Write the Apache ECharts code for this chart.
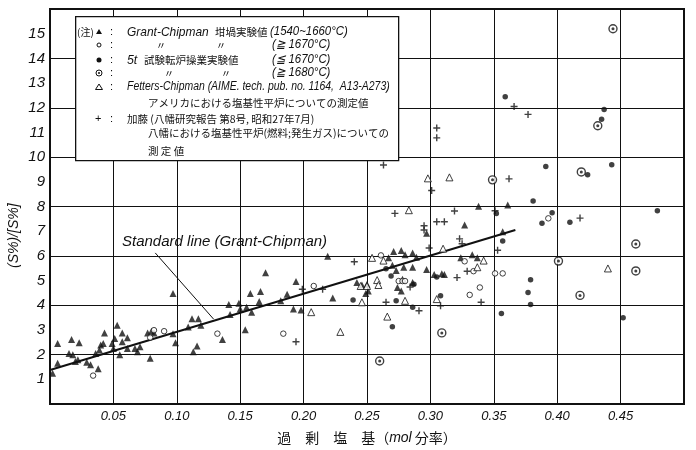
<!DOCTYPE html>
<html><head><meta charset="utf-8">
<script src="https://cdn.jsdelivr.net/npm/echarts@6/dist/echarts.min.js"></script>
<style>html,body{margin:0;padding:0;background:#fff}#c{width:696px;height:450px}</style>
</head><body><div id="c"></div>
<script>
// ---- data ----
const xTicks = [0.05,0.10,0.15,0.20,0.25,0.30,0.35,0.40,0.45];
const yTicks = [1,2,3,4,5,6,7,8,9,10,11,12,13,14,15];
// Grant-Chipman crucible (1540~1660°C) : filled triangles
const gcTri = [[0.002,1.25],[0.006,2.45],[0.006,1.65],[0.015,2.05],[0.017,2.61],[0.018,1.99],[0.020,1.72],[0.022,1.79],[0.023,2.48],[0.029,1.69],[0.032,1.59],[0.036,2.05],[0.038,1.43],[0.039,2.19],[0.040,2.39],[0.042,2.45],[0.043,2.88],[0.049,2.45],[0.050,2.25],[0.051,2.65],[0.053,3.19],[0.055,1.99],[0.057,2.88],[0.057,2.52],[0.061,2.68],[0.061,2.25],[0.067,2.25],[0.069,2.12],[0.071,2.32],[0.079,1.85],[0.077,2.88],[0.080,2.95],[0.082,2.88],[0.097,4.48],[0.097,2.85],[0.099,2.48],[0.109,3.12],[0.112,3.45],[0.117,3.45],[0.116,2.35],[0.113,2.12],[0.119,3.19],[0.136,2.61],[0.141,4.03],[0.142,3.63],[0.149,4.08],[0.150,3.85],[0.154,3.01],[0.155,3.92],[0.158,4.48],[0.159,3.72],[0.165,4.15],[0.166,4.56],[0.170,5.32],
[0.338,8.01],[0.327,7.25],[0.297,6.92],[0.271,6.18],[0.277,6.22],[0.280,6.05],[0.286,6.12],[0.289,5.94],[0.267,5.92],[0.270,5.62],[0.279,5.54],[0.286,5.54],[0.273,5.41],[0.297,5.45],[0.219,5.98],[0.194,4.96],[0.192,3.85],[0.198,3.81],[0.187,4.45],[0.182,4.18],[0.223,4.29],[0.242,4.92],[0.246,4.82],[0.250,4.85],[0.251,4.58],[0.249,4.48],[0.274,4.72],[0.277,4.58],[0.278,5.05],[0.286,4.92],[0.324,5.92],[0.333,6.05],[0.337,5.92],[0.303,5.25],[0.309,5.28],[0.311,5.25],[0.361,8.06],[0.357,6.98]];
// Grant-Chipman crucible (>=1670°C) : open circles
const gcCirc = [[0.034,1.15],[0.079,2.69],[0.082,2.99],[0.090,2.95],[0.132,2.85],[0.261,6.02],[0.208,4.78],[0.275,4.98],[0.278,4.98],[0.280,4.98],[0.184,2.85],[0.331,4.42],[0.339,4.72],[0.327,5.78],[0.334,5.38],[0.393,7.52],[0.351,5.29],[0.357,5.29]];
// 5t converter (<=1670°C) : filled circles
const cvDot = [[0.265,5.48],[0.269,5.18],[0.239,4.21],[0.273,4.18],[0.286,3.92],[0.287,4.85],[0.308,4.38],[0.270,3.13],[0.305,5.14],[0.352,7.72],[0.359,12.45],[0.437,11.93],[0.435,11.53],[0.391,9.62],[0.424,9.29],[0.443,9.69],[0.381,8.22],[0.396,7.75],[0.388,7.32],[0.410,7.36],[0.357,6.6],[0.379,5.03],[0.377,4.52],[0.379,4.03],[0.356,3.67],[0.452,3.49],[0.479,7.83]];
// 5t converter (>=1680°C) : circle with dot
const cvRing = [[0.349,9.08],[0.309,2.88],[0.260,1.74],[0.444,15.2],[0.432,11.27],[0.419,9.4],[0.462,6.48],[0.462,5.39],[0.418,4.4],[0.401,5.79]];
// Fetters-Chipman : open triangles
const fcTri = [[0.298,9.14],[0.315,9.18],[0.283,7.85],[0.310,6.29],[0.254,5.92],[0.263,5.81],[0.258,5.02],[0.259,4.82],[0.245,4.78],[0.250,4.78],[0.229,2.92],[0.206,3.72],[0.266,3.54],[0.280,4.18],[0.305,4.25],[0.342,5.81],[0.337,5.54],[0.246,4.12],[0.440,5.49]];
// Kato (Yawata) : plus
const ktPlus = [[0.305,11.18],[0.305,10.78],[0.263,9.68],[0.301,8.65],[0.272,7.72],[0.319,7.82],[0.305,7.38],[0.311,7.38],[0.295,7.22],[0.295,7.05],[0.323,6.69],[0.325,6.49],[0.299,6.32],[0.240,5.76],[0.199,4.65],[0.215,4.65],[0.284,4.74],[0.265,4.12],[0.308,3.98],[0.291,3.78],[0.194,2.52],[0.321,5.12],[0.329,5.38],[0.340,4.12],[0.366,12.05],[0.377,11.73],[0.362,9.12],[0.351,7.83],[0.418,7.53],[0.353,6.23]];
// standard line (Grant-Chipman)
const stdX = [0, 0.367];
const stdY = [1.38, 7.05];
// annotation pointer
const arrX = [0.083, 0.129];
const arrY = [6.12, 3.44];
// ---- chart ----
const chart = echarts.init(document.getElementById('c'));
const LAT = '"Liberation Sans",sans-serif';
const CJK = '"Noto Sans CJK JP","Noto Sans CJK SC",sans-serif';
const K = '#111';
function zip(a,b){return a.map((v,i)=>[v,b[i]]);}
const plusPath = 'path://M4,0H6V4H10V6H6V10H4V6H0V4H4Z';
const txt = (x,y,t,font,size,italic,sx)=>({type:'text',x:x,y:y,z:100,scaleX:sx||1,style:{text:t,fill:K,font:(italic?'italic ':'')+size+'px '+font,textVerticalAlign:'middle'}});
const R = [32,45,60,73,87,107,119,137,154];
const g = [
  {type:'rect',left:75,top:16,z:90,shape:{width:323,height:144},style:{fill:'#fff',stroke:K,lineWidth:1.3}},
  txt(77,R[0],'(注)',CJK,10,false),
  {type:'polygon',z:100,shape:{points:[[99,R[0]-3],[102,R[0]+2],[96,R[0]+2]]},style:{fill:K}},
  {type:'circle',z:100,shape:{cx:99,cy:R[1],r:2},style:{fill:'#fff',stroke:K,lineWidth:1}},
  {type:'circle',z:100,shape:{cx:99,cy:R[2],r:2.5},style:{fill:K}},
  {type:'circle',z:100,shape:{cx:99,cy:R[3],r:3},style:{fill:'#fff',stroke:K,lineWidth:1}},
  {type:'circle',z:100,shape:{cx:99,cy:R[3],r:1},style:{fill:K}},
  {type:'polygon',z:100,shape:{points:[[99,R[4]-3],[102.5,R[4]+2.5],[95.5,R[4]+2.5]]},style:{fill:'#fff',stroke:K,lineWidth:1}},
  txt(95,R[6],'+',LAT,11,false),
  txt(110,R[0],':',LAT,11,false), txt(110,R[1],':',LAT,11,false), txt(110,R[2],':',LAT,11,false),
  txt(110,R[3],':',LAT,11,false), txt(110,R[4],':',LAT,11,false), txt(110,R[6],':',LAT,11,false),
  txt(127,R[0],'Grant-Chipman',LAT,13,true,0.92), txt(215,R[0],'坩堝実験値',CJK,10.5,false), txt(270,R[0],'(1540~1660°C)',LAT,12,true,0.95),
  txt(156,R[1],'〃',CJK,10,false), txt(216,R[1],'〃',CJK,10,false), txt(272,R[1],'(≧ 1670°C)',LAT,12,true,0.95),
  txt(127,R[2],'5t',LAT,13,true,0.95), txt(144,R[2],'試験転炉操業実験値',CJK,10.5,false), txt(272,R[2],'(≦ 1670°C)',LAT,12,true,0.95),
  txt(164,R[3],'〃',CJK,10,false), txt(221,R[3],'〃',CJK,10,false), txt(272,R[3],'(≧ 1680°C)',LAT,12,true,0.95),
  txt(127,R[4],'Fetters-Chipman (AIME. tech. pub. no. 1164,  A13-A273)',LAT,12,true,0.87),
  txt(148,R[5]-4,'アメリカにおける塩基性平炉についての測定値',CJK,10.5,false),
  txt(127,R[6],'加藤 (八幡研究報告 第8号, 昭和27年7月)',CJK,10.5,false),
  txt(148,R[7]-4,'八幡における塩基性平炉(燃料;発生ガス)についての',CJK,10.5,false),
  txt(148,R[8]-3,'測 定 値',CJK,10.5,false),
  txt(122,242,'Standard line (Grant-Chipman)',LAT,15,true,1.0),
  {type:'text',x:14,y:268,z:100,rotation:Math.PI/2,style:{text:'(S%)/[S%]',fill:K,font:'italic 14px '+LAT,textVerticalAlign:'middle'}}
];
chart.setOption({
  animation:false,
  backgroundColor:'#fff',
  grid:{left:50,right:12,top:9,bottom:42,show:true,borderColor:K,borderWidth:2,backgroundColor:'transparent'},
  xAxis:{type:'value',min:0,max:0.5,interval:0.05,
    axisLine:{show:false},axisTick:{show:false},
    splitLine:{show:true,lineStyle:{color:K,width:1}},
    axisLabel:{margin:6,color:K,fontStyle:'italic',fontSize:13,fontFamily:LAT,
      formatter:v=>{const f=xTicks.find(t=>Math.abs(t-v)<1e-6);return f===undefined?'':f.toFixed(2);}},
    name:'過　剰　塩　基（{i|mol} 分率）',nameLocation:'middle',nameGap:27,
    nameTextStyle:{color:K,fontSize:14,fontFamily:CJK,rich:{i:{fontStyle:'italic',fontSize:14,fontFamily:LAT,color:K}}}},
  yAxis:[{type:'value',min:0,max:16,interval:2,axisLine:{show:false},axisTick:{show:false},axisLabel:{show:false},
      splitLine:{show:true,lineStyle:{color:K,width:1}}},
    {type:'value',min:0,max:16,interval:1,position:'left',axisLine:{show:false},axisTick:{show:false},splitLine:{show:false},
      axisLabel:{margin:5,color:K,fontStyle:'italic',fontSize:15,fontFamily:LAT,
        formatter:v=>yTicks.indexOf(v)>=0?String(v):''}}],
  series:[
    {type:'line',data:zip(stdX,stdY),symbol:'none',lineStyle:{color:K,width:2},z:3},
    {type:'line',data:zip(arrX,arrY),symbol:'none',lineStyle:{color:K,width:1},z:3},
    {type:'scatter',data:gcTri,symbol:'triangle',symbolSize:7,itemStyle:{color:K},z:4},
    {type:'scatter',data:gcCirc,symbol:'circle',symbolSize:5.5,itemStyle:{color:'#fff',borderColor:K,borderWidth:1},z:4},
    {type:'scatter',data:cvDot,symbol:'circle',symbolSize:5.5,itemStyle:{color:K},z:4},
    {type:'scatter',data:cvRing,symbol:'circle',symbolSize:8,itemStyle:{color:'#fff',borderColor:K,borderWidth:1.4},z:4},
    {type:'scatter',data:cvRing,symbol:'circle',symbolSize:3,itemStyle:{color:K},z:5},
    {type:'scatter',data:fcTri,symbol:'triangle',symbolSize:7,itemStyle:{color:'#fff',borderColor:K,borderWidth:1},z:4},
    {type:'scatter',data:ktPlus,symbol:plusPath,symbolSize:7,itemStyle:{color:K},z:4}
  ],
  graphic:g
});
</script></body></html>
